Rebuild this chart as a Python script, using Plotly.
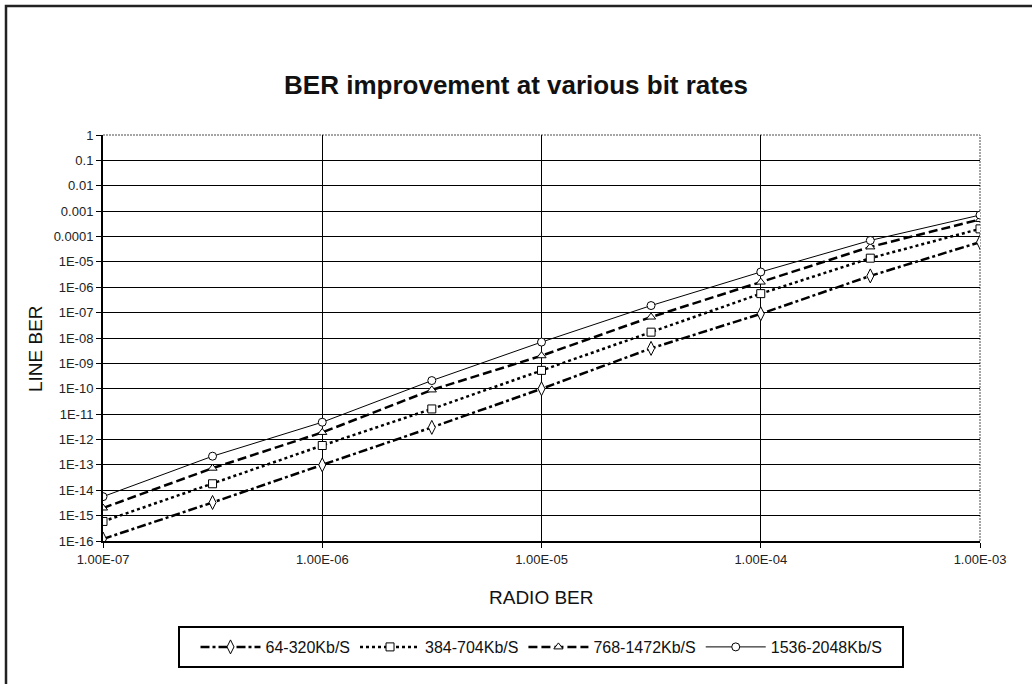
import plotly.graph_objects as go

# Radio BER sample points (half-decade steps)
radio_ber = [1e-7, 3.16e-7, 1e-6, 3.16e-6, 1e-5, 3.16e-5, 1e-4, 3.16e-4, 1e-3]

# Line BER per bit-rate band
ber_64_320 = [1.2e-16, 3.3e-15, 1.0e-13, 3.0e-12, 1.0e-10, 3.9e-9, 9.0e-8, 2.8e-6, 6.0e-5]
ber_384_704 = [5.9e-16, 1.8e-14, 5.8e-13, 1.6e-11, 5.3e-10, 1.7e-8, 5.6e-7, 1.4e-5, 2.0e-4]
ber_768_1472 = [2.0e-15, 7.4e-14, 1.9e-12, 9.0e-11, 2.0e-9, 6.7e-8, 1.6e-6, 3.9e-5, 4.7e-4]
ber_1536_2048 = [5.6e-15, 2.2e-13, 4.8e-12, 2.1e-10, 6.9e-9, 1.9e-7, 4.0e-6, 7.0e-5, 7.0e-4]

series_names = ["64-320Kb/S", "384-704Kb/S", "768-1472Kb/S", "1536-2048Kb/S"]

x_tick_vals = [1e-7, 1e-6, 1e-5, 1e-4, 1e-3]
x_tick_text = ["1.00E-07", "1.00E-06", "1.00E-05", "1.00E-04", "1.00E-03"]
y_tick_vals = [10.0 ** -k for k in range(0, 17)]
y_tick_text = ["1", "0.1", "0.01", "0.001", "0.0001"] + ["1E-%02d" % k for k in range(5, 17)]

FONT = "Liberation Sans, Arial, sans-serif"
INK = "#111111"

styles = [
    dict(dash="9px,3px,3px,3px", width=2.5, symbol="diamond-tall", size=10),
    dict(dash="3px,3px", width=2.5, symbol="square", size=8),
    dict(dash="9px,4px", width=2.5, symbol="triangle-up", size=8),
    dict(dash="solid", width=1, symbol="circle", size=8),
]

fig = go.Figure()
for name, values, st in zip(series_names,
                            [ber_64_320, ber_384_704, ber_768_1472, ber_1536_2048],
                            styles):
    fig.add_trace(go.Scatter(
        x=radio_ber, y=values, name=name, mode="lines+markers",
        line=dict(color="black", width=st["width"], dash=st["dash"]),
        marker=dict(symbol=st["symbol"], size=st["size"], color="white",
                    line=dict(color="black", width=1)),
    ))

# plot-area geometry in pixels (used to place paper-referenced shapes)
L, R, T, B = 103, 52, 135, 143
W, H = 1032, 684
PW, PH = W - L - R, H - T - B


def px_x(p):
    return (p - L) / PW


def px_y(p):
    return (H - B - p) / PH


shapes = [
    # outer chart frame
    dict(type="rect", xref="paper", yref="paper",
         x0=px_x(6), x1=px_x(1040), y0=px_y(692), y1=px_y(6),
         line=dict(color="#222222", width=2.5), layer="below"),
    # legend frame
    dict(type="rect", xref="paper", yref="paper",
         x0=px_x(179), x1=px_x(903), y0=px_y(667), y1=px_y(627),
         line=dict(color="black", width=2)),
    # plot-area top and right edges (grey dotted)
    dict(type="line", xref="paper", yref="paper", x0=0, x1=1, y0=1, y1=1,
         line=dict(color="white", width=2), layer="between"),
    dict(type="line", xref="paper", yref="paper", x0=1, x1=1, y0=0, y1=1,
         line=dict(color="white", width=2), layer="between"),
    dict(type="line", xref="paper", yref="paper", x0=0, x1=1, y0=1, y1=1,
         line=dict(color="#888888", width=1.5, dash="2px,1px"), layer="between"),
    dict(type="line", xref="paper", yref="paper", x0=1, x1=1, y0=0, y1=1,
         line=dict(color="#888888", width=1.5, dash="2px,1px"), layer="between"),
]

fig.update_layout(
    width=W, height=H,
    margin=dict(l=L, r=R, t=T, b=B),
    paper_bgcolor="white", plot_bgcolor="white",
    font=dict(family=FONT, color=INK),
    title=dict(text="BER improvement at various bit rates",
               font=dict(family=FONT, size=26, color=INK, weight="bold"),
               x=0.5, xref="container", xanchor="center",
               y=1 - 85 / H, yref="container", yanchor="middle"),
    xaxis=dict(type="log", range=[-7, -3], tickvals=x_tick_vals, ticktext=x_tick_text,
               showgrid=True, gridcolor="black", gridwidth=1,
               showline=True, linecolor="black", linewidth=2,
               ticks="outside", ticklen=5, tickcolor="black", tickwidth=1,
               tickfont=dict(size=13, color="#222222"), zeroline=False),
    yaxis=dict(type="log", range=[-16, 0], tickvals=y_tick_vals, ticktext=y_tick_text,
               showgrid=True, gridcolor="black", gridwidth=1,
               showline=True, linecolor="black", linewidth=2,
               ticks="outside", ticklen=5, tickcolor="black", tickwidth=1,
               tickfont=dict(size=13, color="#222222"), zeroline=False),
    showlegend=True,
    legend=dict(orientation="h", x=0.5, xanchor="center",
                y=px_y(647), yanchor="middle",
                font=dict(family=FONT, size=16, color=INK),
                itemwidth=60, borderwidth=0, bgcolor="rgba(0,0,0,0)"),
    shapes=shapes,
    annotations=[
        dict(text="RADIO BER", xref="paper", yref="paper",
             x=0.5, y=px_y(597), xanchor="center", yanchor="middle",
             showarrow=False, font=dict(family=FONT, size=19, color=INK)),
        dict(text="LINE BER", xref="paper", yref="paper",
             x=px_x(35), y=px_y(349), xanchor="center", yanchor="middle",
             textangle=-90, showarrow=False, font=dict(family=FONT, size=19, color=INK)),
    ],
)

fig.write_html("out.html")
